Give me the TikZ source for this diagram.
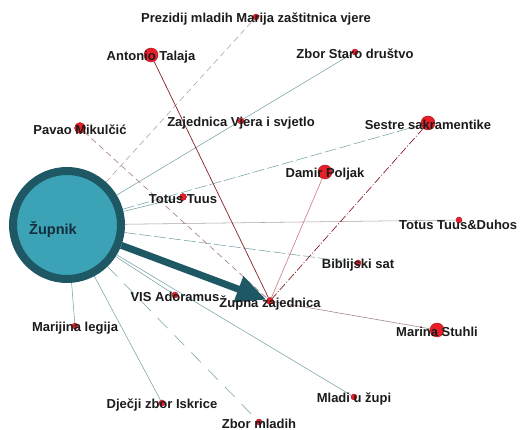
\documentclass[tikz,border=0pt]{standalone}
\usepackage{fontspec}
\setmainfont{Liberation Sans}
\usetikzlibrary{arrows.meta,backgrounds}

\definecolor{zupfill}{RGB}{59,163,181}
\definecolor{zupring}{RGB}{29,88,100}
\definecolor{nodered}{RGB}{232,30,40}
\definecolor{nodedark}{RGB}{170,20,30}
\definecolor{labeltext}{RGB}{27,27,27}
\definecolor{zuptext}{RGB}{20,45,58}
\definecolor{tealline}{RGB}{120,162,168}
\definecolor{greyline}{RGB}{175,165,165}
\definecolor{redline}{RGB}{140,30,40}
\definecolor{pinkline}{RGB}{205,120,130}

\begin{document}
\begin{tikzpicture}[x=1pt, y=-1pt,
    reddot/.style={circle, fill=nodered, draw=nodedark, line width=0.4pt, inner sep=0pt, minimum size=#1},
    lbl/.style={font=\bfseries\fontsize{13}{15}\selectfont, text=labeltext, yshift=-2pt},
    tline/.style={draw=tealline, line width=0.55pt},
    rline/.style={draw=redline, line width=0.7pt}]

    \useasboundingbox (0,0) rectangle (520,430);

    % central node
    \node[circle, fill=zupfill, draw=zupring, line width=8pt, minimum size=108pt] (zupnik) at (67,225) {};
    \node[font=\bfseries\fontsize{14.5}{16}\selectfont, text=zuptext] (zupniktxt) at (53,230) {Župnik};

    % other nodes
    \node[reddot=6pt, label={[lbl]center:Prezidij mladih Marija zaštitnica vjere}] (prezidij) at (256,17) {};
    \node[reddot=14pt, label={[lbl]center:Antonio Talaja}] (antonio) at (151,55) {};
    \node[reddot=6pt, label={[lbl]center:Zbor Staro društvo}] (zborstaro) at (355,52) {};
    \node[reddot=11pt, label={[lbl]center:Pavao Mikulčić}] (pavao) at (80,128) {};
    \node[reddot=6pt, label={[lbl]center:Zajednica Vjera i svjetlo}] (vjera) at (241,121) {};
    \node[reddot=14pt, label={[lbl]center:Sestre sakramentike}] (sestre) at (428,123) {};
    \node[reddot=14pt, label={[lbl]center:Damir Poljak}] (damir) at (325,172) {};
    \node[reddot=7pt, label={[lbl]center:Totus Tuus}] (totus) at (183,197) {};
    \node[reddot=6pt] (duhos) at (459,220) {};
    \node[lbl, anchor=west, inner xsep=1pt] (duhostxt) at (398,223) {Totus Tuus\&Duhos};
    \node[reddot=6pt, label={[lbl]center:Biblijski sat}] (biblija) at (358,263) {};
    \node[reddot=7pt, label={[lbl]center:Župna zajednica}] (zupna) at (270,301) {};
    \node[reddot=6pt, label={[lbl]center:VIS Adoramus}] (vis) at (175,295) {};
    \node[reddot=14pt, label={[lbl]center:Marina Stuhli}] (marina) at (437,330) {};
    \node[reddot=6pt, label={[lbl]center:Marijina legija}] (legija) at (75,326) {};
    \node[reddot=6pt, label={[lbl]center:Mladi u župi}] (mladi) at (354,397) {};
    \node[reddot=6pt, label={[lbl]center:Dječji zbor Iskrice}] (iskrice) at (162,403) {};
    \node[reddot=6pt, label={[lbl]center:Zbor mladih}] (zbormladih) at (259,422) {};

    \begin{scope}[on background layer]
        \fill[white] (0,0) rectangle (520,430);
        \draw[greyline, line width=0.6pt, dash pattern=on 6pt off 4pt] (zupnik) -- (prezidij);
        \draw[tline] (zupnik) -- (zborstaro);
        \draw[tline, dash pattern=on 12pt off 3pt] (zupnik) -- (sestre);
        \draw[tline] (zupnik) -- (totus);
        \draw[tline, draw=greyline] (zupnik) -- (duhos);
        \draw[tline, dash pattern=on 12pt off 3pt] (zupnik) -- (biblija);
        \draw[tline] (zupnik) -- (vis);
        \draw[tline] (zupnik) -- (mladi);
        \draw[tline] (zupnik) -- (legija);
        \draw[tline] (zupnik) -- (iskrice);
        \draw[tline, dash pattern=on 14pt off 10pt] (zupnik) -- (zbormladih);

        \draw[rline] (antonio) -- (zupna);
        \draw[pinkline, line width=0.6pt] (damir) -- (zupna);
        \draw[rline, dash pattern=on 8pt off 2pt on 1pt off 2pt] (sestre) -- (zupna);
        \draw[greyline!70!redline, line width=0.6pt, dash pattern=on 6pt off 4pt] (pavao) -- (zupna);
        \draw[greyline!80!redline, line width=0.6pt] (zupna) -- (marina);

        \draw[zupring, line width=7pt, -{Triangle[length=30pt,width=26pt]}] (zupnik) -- (zupna);
    \end{scope}
\end{tikzpicture}
\end{document}
